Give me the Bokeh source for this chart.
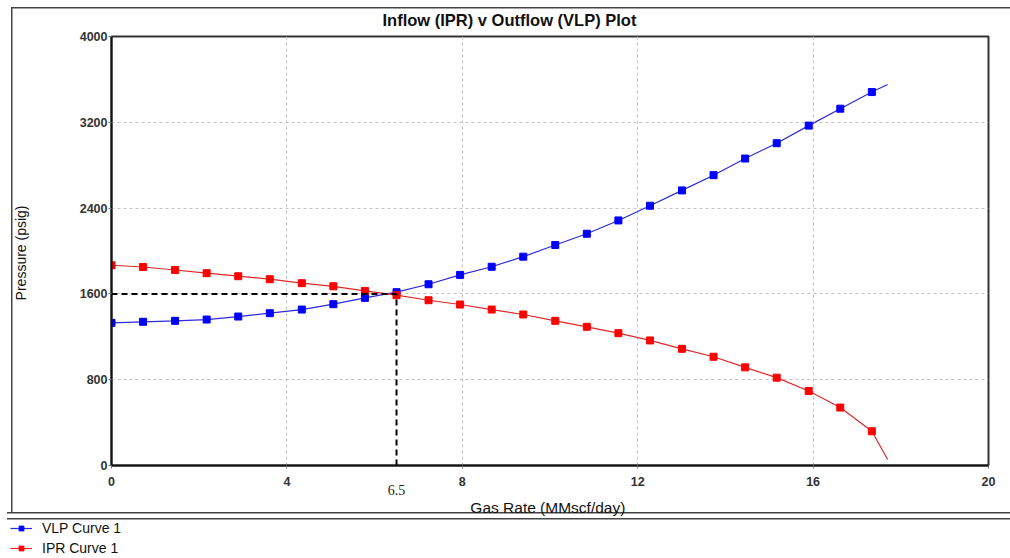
from bokeh.plotting import figure
from bokeh.layouts import column
from bokeh.models import (Range1d, FixedTicker, Legend, LegendItem, LinearAxis)
from bokeh.embed import file_html
from bokeh.resources import INLINE

# Gas rate (MMscf/day) at each computed point
rate = [0.00, 0.72, 1.45, 2.17, 2.89, 3.61, 4.34, 5.06, 5.78, 6.50,
        7.23, 7.95, 8.67, 9.39, 10.12, 10.84, 11.56, 12.28, 13.01, 13.73,
        14.45, 15.17, 15.90, 16.62, 17.34]

# Outflow (VLP) pressure, psig
vlp = [1330, 1340, 1349, 1361, 1389, 1420, 1454, 1504, 1563, 1616,
       1690, 1777, 1853, 1947, 2056, 2161, 2285, 2422, 2565, 2707,
       2862, 3005, 3169, 3327, 3482]

# Inflow (IPR) pressure, psig
ipr = [1867, 1851, 1823, 1793, 1765, 1737, 1700, 1671, 1628, 1588,
       1541, 1501, 1454, 1408, 1349, 1293, 1234, 1166, 1088, 1014,
       915, 819, 695, 540, 319]

# curves continue to the open-flow end point
end_rate = 17.70
end_vlp = 3553
end_ipr = 56

# operating point (intersection)
op_rate = 6.5
op_pressure = 1600

x_ticks = [0, 4, 8, 12, 16, 20]
y_ticks = [0, 800, 1600, 2400, 3200, 4000]

series_names = ["VLP Curve 1", "IPR Curve 1"]
series_values = [vlp, ipr]
series_ends = [end_vlp, end_ipr]
line_colors = ["#2b2bdc", "#e02828"]
marker_colors = ["#0000ff", "#ff0000"]

# panel frame lines drawn behind the transparent canvas
frame_css = {
    "background-image": ", ".join(["linear-gradient(#454545, #454545)"] * 4),
    "background-size": "1000px 1.5px, 1.5px 506px, 1005px 1.5px, 1005px 1.5px",
    "background-position": "11px 7px, 11px 7px, 7px 512px, 7px 517.5px",
    "background-repeat": "no-repeat",
}

W = 1010
p = figure(width=W, height=520, output_backend="svg", toolbar_location=None,
           x_range=Range1d(0, 20), y_range=Range1d(0, 4000),
           min_border_left=111, min_border_right=22,
           min_border_top=35, min_border_bottom=55,
           title="Inflow (IPR) v Outflow (VLP) Plot", styles=frame_css)
p.frame_align = False
p.background_fill_color = "white"
p.border_fill_alpha = 0
p.outline_line_color = "#333333"
p.outline_line_width = 2

p.title.align = "left"
p.title.offset = 271
p.title.standoff = 16
p.title.text_font = "Liberation Sans"
p.title.text_font_style = "bold"
p.title.text_font_size = "16.5px"
p.title.text_color = "#111111"

for ax in (p.xaxis, p.yaxis):
    ax.major_tick_in = 0
    ax.major_tick_out = 3
    ax.major_tick_line_color = "#777777"
    ax.minor_tick_line_color = None
    ax.axis_line_color = "#111111"
    ax.axis_line_width = 2
    ax.major_label_text_font = "Liberation Sans"
    ax.major_label_text_font_style = "bold"
    ax.major_label_text_font_size = "12.5px"
    ax.major_label_text_color = "#333333"
p.xaxis.ticker = FixedTicker(ticks=x_ticks)
p.yaxis.ticker = FixedTicker(ticks=y_ticks)
p.xaxis.major_label_standoff = 8
p.yaxis.major_label_standoff = 1

p.yaxis.axis_label = "Pressure  (psig)"
p.yaxis.axis_label_standoff = 48
p.yaxis.axis_label_text_font = "Liberation Sans"
p.yaxis.axis_label_text_font_style = "normal"
p.yaxis.axis_label_text_font_size = "14px"
p.yaxis.axis_label_text_color = "#111111"

# second bottom axis carrying the operating-rate mark and the axis title
op_axis = LinearAxis(ticker=FixedTicker(ticks=[op_rate]),
                     axis_line_color=None, major_tick_line_color=None,
                     minor_tick_line_color=None,
                     major_label_standoff=-10,
                     major_label_text_font="Liberation Serif",
                     major_label_text_font_size="14px",
                     major_label_text_color="#222222",
                     axis_label="Gas Rate  (MMscf/day)",
                     axis_label_standoff=1,
                     axis_label_text_font="Liberation Sans",
                     axis_label_text_font_style="normal",
                     axis_label_text_font_size="15.5px",
                     axis_label_text_color="#111111")
p.add_layout(op_axis, "below")

p.grid.grid_line_color = "#c4c4c4"
p.grid.grid_line_dash = "3 3"
p.grid.grid_line_width = 1
p.xgrid.ticker = FixedTicker(ticks=x_ticks[1:-1])
p.ygrid.ticker = FixedTicker(ticks=y_ticks[1:-1])

# curves
for ys, y_end, lc, mc in zip(series_values, series_ends, line_colors, marker_colors):
    p.line(rate + [end_rate], ys + [y_end], line_color=lc, line_width=1.2)
    p.scatter(rate, ys, marker="square", size=7, fill_color=mc, line_color=mc)

# operating point guide lines
p.line([0, op_rate], [op_pressure, op_pressure], line_color="black",
       line_width=2, line_dash="6 4")
p.line([op_rate, op_rate], [0, op_pressure], line_color="black",
       line_width=2, line_dash="6 4")

# legend strip under the chart panel (its renderers fall outside this strip's ranges)
lg = figure(width=W, height=38, output_backend="svg", toolbar_location=None,
            x_range=Range1d(0, 1), y_range=Range1d(-2, -1),
            min_border=0, x_axis_type=None, y_axis_type=None)
lg.frame_align = False
lg.outline_line_color = None
lg.grid.visible = False
items = []
for name, ys, lc, mc in zip(series_names, series_values, line_colors, marker_colors):
    r_line = lg.line(rate, ys, line_color=lc, line_width=1.2)
    r_pts = lg.scatter(rate, ys, marker="square", size=7, fill_color=mc, line_color=mc)
    items.append(LegendItem(label=name, renderers=[r_line, r_pts]))
legend = Legend(items=items, location=(10, 0), orientation="vertical",
                glyph_width=22, glyph_height=12, label_standoff=10,
                label_height=20, spacing=0, padding=0, margin=0,
                border_line_color=None, background_fill_alpha=0,
                label_text_font="Liberation Sans", label_text_font_size="14px",
                label_text_color="#111111")
lg.add_layout(legend)

open("out.html", "w").write(file_html(column(p, lg, spacing=0), INLINE))
